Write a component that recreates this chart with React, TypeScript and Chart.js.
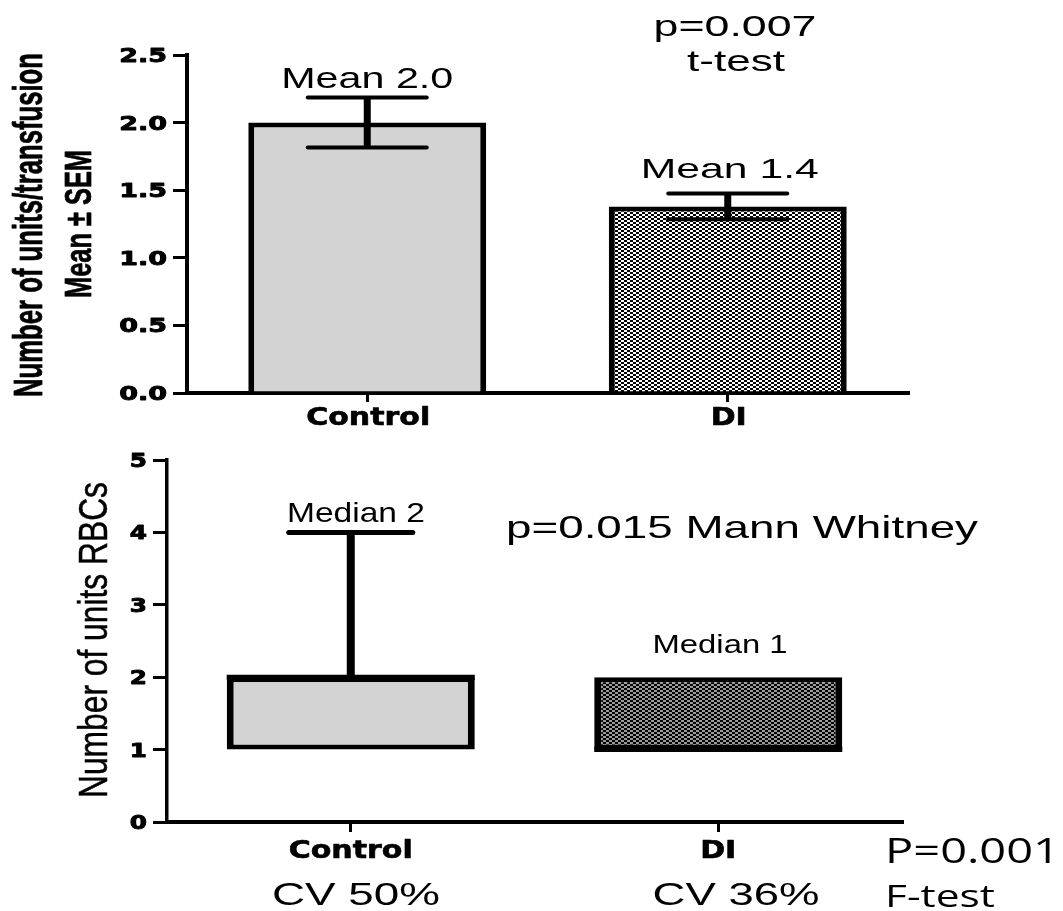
import React, { useEffect, useRef } from "react";
import { Chart, registerables } from "chart.js";

Chart.register(...registerables);

// ---------- data ----------
const categories = ["Control", "DI"];
const meanUnits = [2.0, 1.38];
const semUnits = [0.185, 0.095];
const meanLabels = ["Mean 2.0", "Mean 1.4"];

const boxMin = [1, 1];
const boxQ1 = [1, 1];
const boxMedian = [2, 1];
const boxQ3 = [2, 2];
const boxMax = [4, 2];
const medianLabels = ["Median 2", "Median 1"];
const cvLabels = ["CV 50%", "CV 36%"];

const topTitleLines = ["Number of units/transfusion", "Mean \u00B1 SEM"];
const bottomTitle = "Number of units RBCs";

type TextOpts = {
  size: number;
  family?: string;
  weight?: string;
  width?: number;
  sx?: number;
  sy?: number;
  align?: "left" | "center" | "right";
  rotate?: boolean;
  stroke?: number;
};

function drawText(ctx: CanvasRenderingContext2D, text: string, x: number, y: number, o: TextOpts) {
  ctx.save();
  ctx.font = `${o.weight || "normal"} ${o.size}px ${o.family || "'Liberation Sans', Arial, sans-serif"}`;
  ctx.fillStyle = "#000";
  ctx.strokeStyle = "#000";
  ctx.textBaseline = "alphabetic";
  ctx.textAlign = "left";
  const w = ctx.measureText(text).width;
  const sx = o.width ? o.width / w : o.sx || 1;
  const sy = o.sy || 1;
  ctx.translate(x, y);
  if (o.rotate) ctx.rotate(-Math.PI / 2);
  ctx.scale(sx, sy);
  const off = o.align === "center" ? -w / 2 : o.align === "right" ? -w : 0;
  ctx.fillText(text, off, 0);
  if (o.stroke) {
    ctx.lineWidth = o.stroke;
    ctx.lineJoin = "round";
    ctx.strokeText(text, off, 0);
  }
  ctx.restore();
}

function makePattern(ctx: CanvasRenderingContext2D, c1: string, c2: string, cw: number, ch: number) {
  const cv = document.createElement("canvas");
  cv.width = cw * 2;
  cv.height = ch * 2;
  const g = cv.getContext("2d")!;
  g.fillStyle = c2;
  g.fillRect(0, 0, cw * 2, ch * 2);
  g.fillStyle = c1;
  g.fillRect(0, 0, cw, ch);
  g.fillRect(cw, ch, cw, ch);
  return ctx.createPattern(cv, "repeat")!;
}

const BOLD_TICK = "'DejaVu Sans', sans-serif";

export default function App() {
  const ref1 = useRef<HTMLCanvasElement>(null);
  const ref2 = useRef<HTMLCanvasElement>(null);

  useEffect(() => {
    document.body.style.margin = "0";
    const cv1 = ref1.current!;
    const cv2 = ref2.current!;
    const pat1 = makePattern(cv1.getContext("2d")!, "#000", "#fff", 3, 2);
    const pat2 = makePattern(cv2.getContext("2d")!, "#000", "#9a9a9a", 3, 2);

    // ---------- top chart: mean ± SEM ----------
    const errorBars = {
      id: "errorBars",
      afterDatasetsDraw(chart: any) {
        const ctx = chart.ctx as CanvasRenderingContext2D;
        const ys = chart.scales.y;
        const meta = chart.getDatasetMeta(0);
        ctx.save();
        ctx.strokeStyle = "#000";
        meanUnits.forEach((m, i) => {
          const bar = meta.data[i];
          const x = bar.x;
          const half = bar.width * 0.25;
          const yt = ys.getPixelForValue(m + semUnits[i]);
          const yb = ys.getPixelForValue(m - semUnits[i]);
          ctx.lineCap = "butt";
          ctx.lineWidth = 7;
          ctx.beginPath();
          ctx.moveTo(x, yb);
          ctx.lineTo(x, yt);
          ctx.stroke();
          ctx.lineCap = "round";
          ctx.lineWidth = 4;
          [yt, yb].forEach((yy) => {
            ctx.beginPath();
            ctx.moveTo(x - half, yy);
            ctx.lineTo(x + half, yy);
            ctx.stroke();
          });
        });
        ctx.restore();
      },
    };

    const topText = {
      id: "topText",
      afterDraw(chart: any) {
        const ctx = chart.ctx as CanvasRenderingContext2D;
        const ys = chart.scales.y;
        const xs = chart.scales.x;
        ys.ticks.forEach((t: any, i: number) => {
          drawText(ctx, String(t.label), 167, ys.getPixelForTick(i) + 7, {
            size: 19, weight: "bold", family: BOLD_TICK, sx: 1.42, align: "right", stroke: 0.9,
          });
        });
        xs.ticks.forEach((t: any, i: number) => {
          drawText(ctx, String(t.label), xs.getPixelForTick(i) + 1, 425, {
            size: 24, weight: "bold", family: BOLD_TICK, sx: 1.25, align: "center", stroke: 0.6,
          });
        });
        drawText(ctx, topTitleLines[0], 42, 225, { size: 26, weight: "bold", width: 344, sy: 1.54, align: "center", rotate: true, stroke: 0.5 });
        drawText(ctx, topTitleLines[1], 91, 224, { size: 26, weight: "bold", width: 148, sy: 1.45, align: "center", rotate: true, stroke: 0.5 });
        drawText(ctx, meanLabels[0], xs.getPixelForTick(0), 88, { size: 29, width: 172, align: "center" });
        drawText(ctx, meanLabels[1], xs.getPixelForTick(1) + 2, 178, { size: 28, width: 178, align: "center" });
        drawText(ctx, "p=0.007", 735, 36, { size: 30, width: 163, align: "center" });
        drawText(ctx, "t-test", 736, 71, { size: 30, width: 98, align: "center" });
      },
    };

    const axisGrid = (tl: number, lw: number) => ({
      display: true,
      drawOnChartArea: false,
      drawTicks: true,
      tickLength: tl,
      color: "#000",
      lineWidth: lw,
      offset: false,
    });

    const c1 = new Chart(cv1, {
      type: "bar",
      data: {
        labels: categories,
        datasets: [
          {
            data: meanUnits,
            backgroundColor: ["#d3d3d3", pat1],
            borderColor: "#000",
            borderWidth: { top: 5, left: 6, right: 6, bottom: 0 },
            borderSkipped: false,
            barPercentage: 0.66,
            categoryPercentage: 1,
          } as any,
        ],
      },
      options: {
        responsive: false,
        animation: false,
        devicePixelRatio: 1,
        layout: { padding: { left: 127, top: 55, right: 155, bottom: 27 } },
        plugins: { legend: { display: false }, tooltip: { enabled: false }, title: { display: false } },
        scales: {
          x: {
            z: 1,
            grid: axisGrid(9, 3),
            border: { display: true, color: "#000", width: 4 },
            ticks: { display: false },
            afterFit: (s: any) => { s.height = 20; },
          } as any,
          y: {
            z: 1,
            min: 0,
            max: 2.5,
            grid: axisGrid(14, 3),
            border: { display: true, color: "#000", width: 4 },
            ticks: { display: false, stepSize: 0.5, callback: (v: any) => Number(v).toFixed(1) },
            afterFit: (s: any) => { s.width = 60; },
          } as any,
        },
      },
      plugins: [errorBars, topText],
    });

    // ---------- bottom chart: box (min/Q1/median/Q3/max) ----------
    const whiskers = {
      id: "whiskers",
      afterDatasetsDraw(chart: any) {
        const ctx = chart.ctx as CanvasRenderingContext2D;
        const ys = chart.scales.y;
        const meta = chart.getDatasetMeta(0);
        ctx.save();
        ctx.strokeStyle = "#000";
        boxQ1.forEach((q1, i) => {
          const bar = meta.data[i];
          const x = bar.x;
          const half = bar.width * 0.25;
          const seg = (from: number, to: number) => {
            if (to === from) return;
            ctx.lineCap = "butt";
            ctx.lineWidth = 8;
            ctx.beginPath();
            ctx.moveTo(x, ys.getPixelForValue(from));
            ctx.lineTo(x, ys.getPixelForValue(to));
            ctx.stroke();
            ctx.lineCap = "round";
            ctx.lineWidth = 5;
            ctx.beginPath();
            ctx.moveTo(x - half, ys.getPixelForValue(to));
            ctx.lineTo(x + half, ys.getPixelForValue(to));
            ctx.stroke();
          };
          seg(boxQ3[i], boxMax[i]);
          seg(q1, boxMin[i]);
          const ym = ys.getPixelForValue(boxMedian[i]);
          ctx.lineCap = "butt";
          ctx.lineWidth = 5;
          ctx.beginPath();
          ctx.moveTo(x - bar.width / 2, ym);
          ctx.lineTo(x + bar.width / 2, ym);
          ctx.stroke();
        });
        ctx.restore();
      },
    };

    const bottomText = {
      id: "bottomText",
      afterDraw(chart: any) {
        const ctx = chart.ctx as CanvasRenderingContext2D;
        const ys = chart.scales.y;
        const xs = chart.scales.x;
        const o = 440;
        ys.ticks.forEach((t: any, i: number) => {
          drawText(ctx, String(t.label), 147, ys.getPixelForTick(i) + 7, {
            size: 19, weight: "bold", family: BOLD_TICK, sx: 1.3, align: "right", stroke: 0.9,
          });
        });
        xs.ticks.forEach((t: any, i: number) => {
          drawText(ctx, String(t.label), xs.getPixelForTick(i), 858 - o, {
            size: 24, weight: "bold", family: BOLD_TICK, sx: 1.25, align: "center", stroke: 0.6,
          });
        });
        drawText(ctx, bottomTitle, 107, 640 - o, { size: 32, width: 316, sy: 1.25, align: "center", rotate: true, stroke: 0.4 });
        drawText(ctx, medianLabels[0], 356, 522 - o, { size: 28, width: 138, align: "center" });
        drawText(ctx, medianLabels[1], 720, 653 - o, { size: 26, width: 135, align: "center" });
        drawText(ctx, "p=0.015 Mann Whitney", 506, 538 - o, { size: 32, width: 472, align: "left" });
        drawText(ctx, cvLabels[0], 356, 905 - o, { size: 32, width: 168, align: "center" });
        drawText(ctx, cvLabels[1], 736, 905 - o, { size: 32, width: 167, align: "center" });
        drawText(ctx, "P=0.001", 885, 863 - o, { size: 35, width: 175, align: "left", family: "'Open Sans', sans-serif" });
        drawText(ctx, "F-test", 885, 907 - o, { size: 31, width: 110, align: "left", family: "'Open Sans', sans-serif" });
      },
    };

    const c2 = new Chart(cv2, {
      type: "bar",
      data: {
        labels: categories,
        datasets: [
          {
            data: boxQ1.map((q, i) => [q, boxQ3[i]]),
            backgroundColor: ["#d3d3d3", pat2],
            borderColor: "#000",
            borderWidth: { top: 5, left: 7, right: 7, bottom: 5 },
            borderSkipped: false,
            barPercentage: 0.675,
            categoryPercentage: 1,
          } as any,
        ],
      },
      options: {
        responsive: false,
        animation: false,
        devicePixelRatio: 1,
        layout: { padding: { left: 107, top: 20, right: 161, bottom: 69 } },
        plugins: { legend: { display: false }, tooltip: { enabled: false }, title: { display: false } },
        scales: {
          x: {
            z: 1,
            grid: axisGrid(10, 3),
            border: { display: true, color: "#000", width: 4 },
            ticks: { display: false },
            afterFit: (s: any) => { s.height = 20; },
          } as any,
          y: {
            z: 1,
            min: 0,
            max: 5,
            grid: axisGrid(14, 3),
            border: { display: true, color: "#000", width: 3.5 },
            ticks: { display: false, stepSize: 1, callback: (v: any) => String(v) },
            afterFit: (s: any) => { s.width = 60; },
          } as any,
        },
      },
      plugins: [whiskers, bottomText],
    });

    return () => {
      c1.destroy();
      c2.destroy();
    };
  }, []);

  return (
    <div style={{ position: "relative", width: 1063, height: 911, background: "#fff" }}>
      <canvas ref={ref1} width={1063} height={440} style={{ position: "absolute", left: 0, top: 0 }} />
      <canvas ref={ref2} width={1063} height={471} style={{ position: "absolute", left: 0, top: 440 }} />
    </div>
  );
}
